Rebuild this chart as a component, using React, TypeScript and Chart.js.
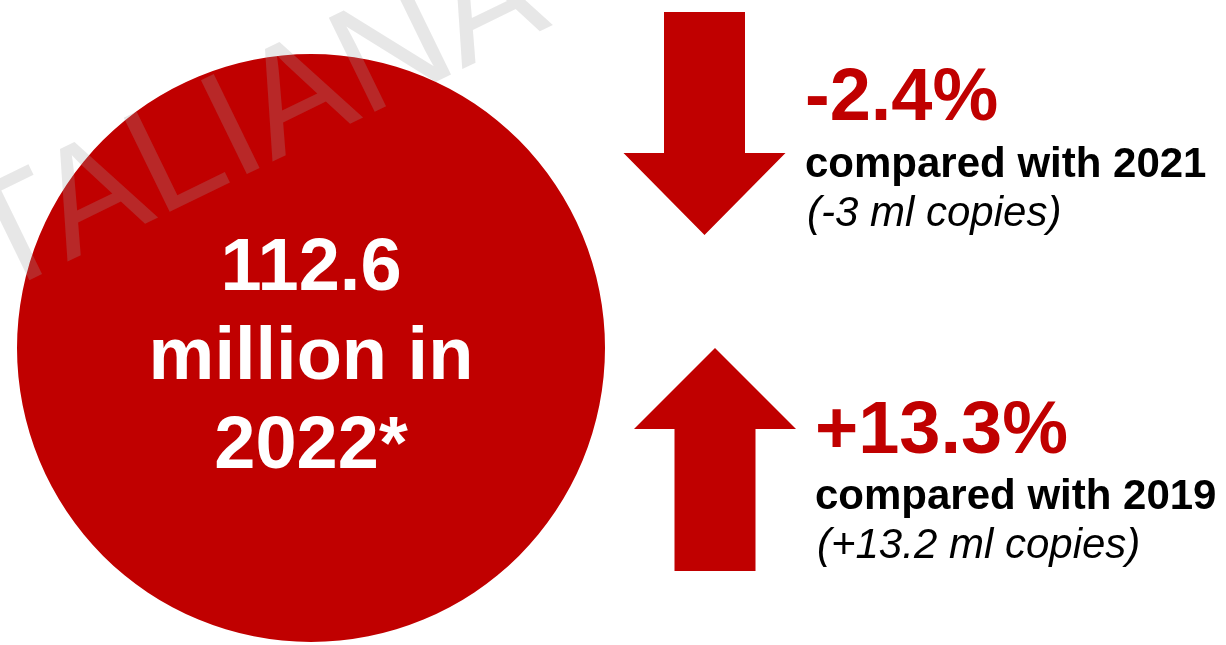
import { useEffect, useRef } from 'react';
import { Chart, registerables } from 'chart.js';

Chart.register(...registerables);

// ---- data ----
const totalLabels = ['Copies sold 2022'];
const totalValues = [112.6];
const totalUnit = 'million in';
const totalYear = '2022*';
const changePercents = [-2.4, 13.3];
const changeYears = ['2021', '2019'];
const changeCopies = [-3, 13.2];
const watermarkText = 'ITALIANA';

const RED = '#c00000';
const FONT = '"Liberation Sans", Arial, Helvetica, sans-serif';

// ---- layout (positions / sizes only) ----
const ARROW_LAYOUT = [
  { cx: 704.5, top: 12, bottom: 235, headW: 162, shaftW: 81, headH: 82, textX: 805, baselines: [120, 177, 226] },
  { cx: 715, top: 348, bottom: 571, headW: 162, shaftW: 81, headH: 81, textX: 815, baselines: [453, 509, 558] },
];

const fmtSigned = (v: number) => (v > 0 ? '+' : '') + String(v);

function drawArrow(ctx: CanvasRenderingContext2D, L: any, down: boolean) {
  const hs = L.shaftW / 2;
  const hh = L.headW / 2;
  ctx.beginPath();
  if (down) {
    const headTop = L.bottom - L.headH;
    ctx.moveTo(L.cx - hs, L.top);
    ctx.lineTo(L.cx + hs, L.top);
    ctx.lineTo(L.cx + hs, headTop);
    ctx.lineTo(L.cx + hh, headTop);
    ctx.lineTo(L.cx, L.bottom);
    ctx.lineTo(L.cx - hh, headTop);
    ctx.lineTo(L.cx - hs, headTop);
  } else {
    const headBase = L.top + L.headH;
    ctx.moveTo(L.cx, L.top);
    ctx.lineTo(L.cx + hh, headBase);
    ctx.lineTo(L.cx + hs, headBase);
    ctx.lineTo(L.cx + hs, L.bottom);
    ctx.lineTo(L.cx - hs, L.bottom);
    ctx.lineTo(L.cx - hs, headBase);
    ctx.lineTo(L.cx - hh, headBase);
  }
  ctx.closePath();
  ctx.fillStyle = RED;
  ctx.fill();
}

const infographicPlugin = {
  id: 'infographic',
  afterDraw(chart: any) {
    const ctx: CanvasRenderingContext2D = chart.ctx;
    const arc = chart.getDatasetMeta(0).data[0];
    const cx = arc.x;
    const cy = arc.y;

    ctx.save();
    // text inside circle
    ctx.fillStyle = '#ffffff';
    ctx.textAlign = 'center';
    ctx.textBaseline = 'alphabetic';
    ctx.font = `bold 74px ${FONT}`;
    const lines = [String(totalValues[0]), totalUnit, totalYear];
    lines.forEach((t, i) => ctx.fillText(t, cx, cy - 58 + i * 89));

    // arrows and comparisons
    changePercents.forEach((v, i) => {
      const L = ARROW_LAYOUT[i];
      drawArrow(ctx, L, v < 0);
      ctx.textAlign = 'left';
      ctx.fillStyle = RED;
      ctx.font = `bold 74px ${FONT}`;
      ctx.fillText(fmtSigned(v) + '%', L.textX, L.baselines[0]);
      ctx.fillStyle = '#000000';
      ctx.font = `bold 42px ${FONT}`;
      ctx.fillText('compared with ' + changeYears[i], L.textX, L.baselines[1]);
      ctx.font = `italic 42px ${FONT}`;
      ctx.fillText('(' + fmtSigned(changeCopies[i]) + ' ml copies)', L.textX + 2, L.baselines[2]);
    });

    // watermark
    ctx.translate(-44, 316);
    ctx.rotate((-26 * Math.PI) / 180);
    ctx.textAlign = 'left';
    ctx.font = `152px ${FONT}`;
    ctx.fillStyle = 'rgba(160,160,160,0.25)';
    ctx.fillText(watermarkText, 0, 0);
    ctx.restore();
  },
};

export default function App() {
  const canvasRef = useRef<HTMLCanvasElement | null>(null);

  useEffect(() => {
    const canvas = canvasRef.current;
    if (!canvas) return;
    const chart = new Chart(canvas, {
      type: 'pie',
      data: {
        labels: totalLabels,
        datasets: [
          {
            data: totalValues,
            backgroundColor: [RED],
            borderWidth: 0,
            hoverOffset: 0,
          },
        ],
      },
      options: {
        responsive: false,
        animation: false,
        layout: { padding: { left: 17, top: 54, right: 621, bottom: 3 } },
        plugins: {
          legend: { display: false },
          tooltip: { enabled: false },
        },
        events: [],
      },
      plugins: [infographicPlugin],
    });
    return () => chart.destroy();
  }, []);

  return (
    <div style={{ position: 'absolute', left: 0, top: 0, width: 1226, height: 645, background: '#ffffff' }}>
      <canvas ref={canvasRef} width={1226} height={645} style={{ display: 'block' }} />
    </div>
  );
}
